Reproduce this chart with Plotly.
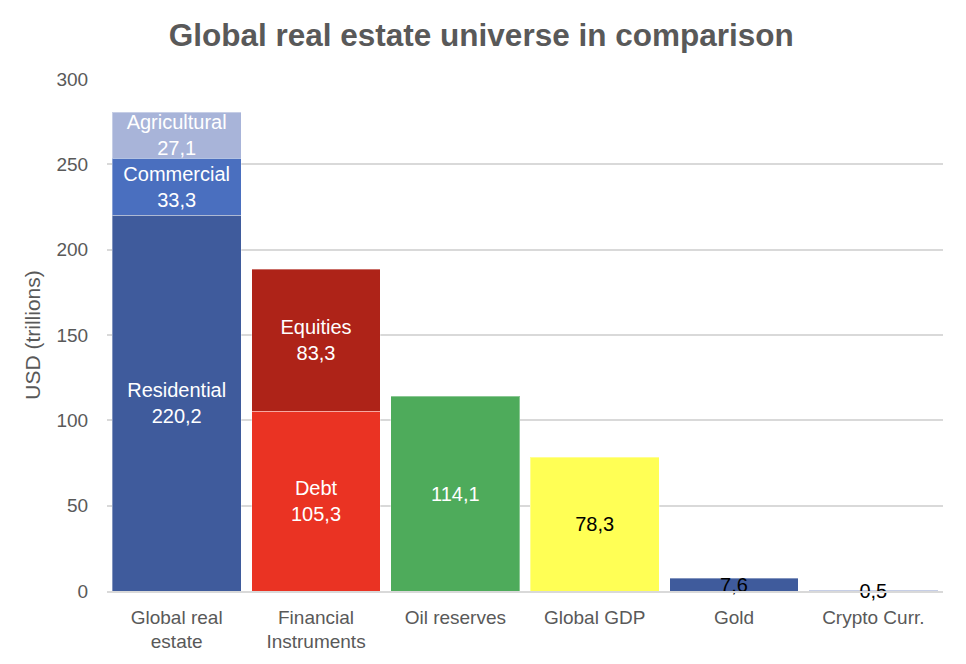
import plotly.graph_objects as go

categories = ["Global real<br>estate", "Financial<br>Instruments", "Oil reserves", "Global GDP", "Gold", "Crypto Curr."]

# stacked layers (bottom -> top)
layer1_names = ["Residential", "Debt", "", "", "", ""]
layer1_values = [220.2, 105.3, 114.1, 78.3, 7.6, 0.5]
layer1_colors = ["#3F5B9C", "#EA3323", "#4EAB5B", "#FFFF55", "#3F5B9C", "#A8B4D9"]
layer1_textcolors = ["white", "white", "white", "black", "black", "black"]

layer2_names = ["Commercial", "Equities", "", "", "", ""]
layer2_values = [33.3, 83.3, None, None, None, None]
layer2_colors = ["#4A6FBF", "#AE2318", "#FFFFFF", "#FFFFFF", "#FFFFFF", "#FFFFFF"]

layer3_names = ["Agricultural", "", "", "", "", ""]
layer3_values = [27.1, None, None, None, None, None]
layer3_colors = ["#A8B4D9", "#FFFFFF", "#FFFFFF", "#FFFFFF", "#FFFFFF", "#FFFFFF"]


def fmt(v):
    return ("%.1f" % v).replace(".", ",")


def labels(names, values):
    out = []
    for n, v in zip(names, values):
        if v is None:
            out.append("")
        elif n:
            out.append(n + "<br>" + fmt(v))
        else:
            out.append(fmt(v))
    return out


FONT = "Liberation Sans, Arial, sans-serif"

fig = go.Figure()
for names, values, colors, tcolors in [
    (layer1_names, layer1_values, layer1_colors, layer1_textcolors),
    (layer2_names, layer2_values, layer2_colors, ["white"] * 6),
    (layer3_names, layer3_values, layer3_colors, ["white"] * 6),
]:
    fig.add_trace(go.Bar(
        x=categories,
        y=values,
        marker=dict(color=colors, line=dict(color="rgba(255,255,255,0.35)", width=1)),
        text=labels(names, values),
        textposition="inside",
        insidetextanchor="middle",
        constraintext="none",
        textangle=0,
        cliponaxis=False,
        textfont=dict(family=FONT, size=20, color=tcolors),
        hoverinfo="skip",
        showlegend=False,
    ))

fig.update_layout(
    barmode="stack",
    bargap=0.075,
    width=958,
    height=656,
    margin=dict(l=99, r=23, t=71, b=64),
    paper_bgcolor="white",
    plot_bgcolor="white",
    title=dict(
        text="<b>Global real estate universe in comparison</b>",
        x=0.494, xanchor="center", y=0.959, yanchor="middle",
        font=dict(family=FONT, size=31.5, color="#595959"),
    ),
    font=dict(family=FONT, color="#595959"),
)
fig.update_yaxes(
    range=[0, 300],
    dtick=50,
    showgrid=True,
    gridcolor="#D9D9D9",
    gridwidth=1.5,
    zeroline=False,
    showline=False,
    ticks="outside",
    ticklen=14,
    tickcolor="rgba(0,0,0,0)",
    tickfont=dict(family=FONT, size=19, color="#595959"),
    title=dict(text="USD (trillions)", font=dict(family=FONT, size=21, color="#595959"), standoff=10),
)
fig.update_xaxes(
    showline=True,
    linecolor="#D9D9D9",
    linewidth=1.5,
    ticks="outside",
    ticklen=8,
    tickcolor="rgba(0,0,0,0)",
    tickfont=dict(family=FONT, size=19, color="#595959"),
)

fig.write_html("out.html")
